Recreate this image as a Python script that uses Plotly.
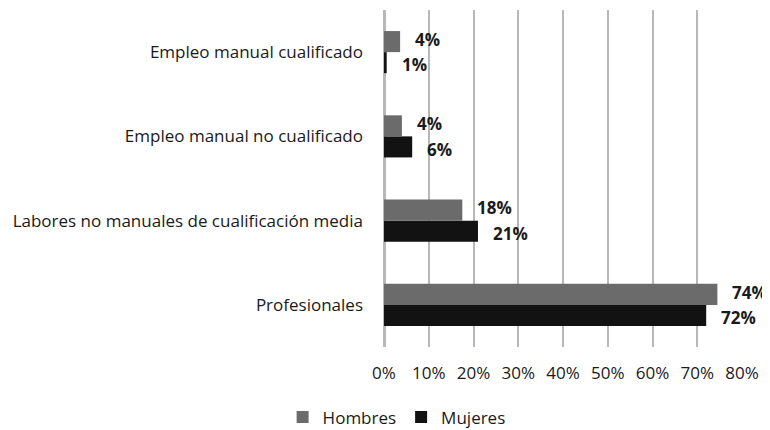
import plotly.graph_objects as go

categories = [
    "Profesionales",
    "Labores no manuales de cualificación media",
    "Empleo manual no cualificado",
    "Empleo manual cualificado",
]
hombres = [0.745, 0.175, 0.040, 0.036]
mujeres = [0.720, 0.210, 0.063, 0.006]

COLOR_H = "#6b6b6b"
COLOR_M = "#121212"
FONT = "'Open Sans', sans-serif"

fig = go.Figure()
# Mujeres first so that Hombres sits on top within each group
fig.add_trace(go.Bar(
    y=categories, x=mujeres, name="Mujeres", orientation="h",
    marker=dict(color=COLOR_M, line=dict(width=0)),
    legendrank=2, hoverinfo="x+name",
))
fig.add_trace(go.Bar(
    y=categories, x=hombres, name="Hombres", orientation="h",
    marker=dict(color=COLOR_H, line=dict(width=0)),
    legendrank=1, hoverinfo="x+name",
))

# data labels to the right of each bar
for vals, off in ((hombres, 0.15), (mujeres, -0.15)):
    for i, v in enumerate(vals):
        fig.add_annotation(
            x=v, y=i + off, xref="x", yref="y",
            text=f"{round(v * 100):.0f}%", showarrow=False,
            xanchor="left", xshift=13,
            font=dict(family=FONT, size=17, color="#1a1a1a", weight="bold"),
        )

# page body has an 8px margin, so the figure is 8px smaller than the window
fig.update_layout(
    width=762, height=422,
    margin=dict(l=376, r=28, t=2, b=83),
    paper_bgcolor="white", plot_bgcolor="white",
    barmode="group", bargap=0.5, bargroupgap=0,
    font=dict(family=FONT, size=17, color="#1a1a1a"),
    legend=dict(orientation="h", x=0.51, xref="container", xanchor="center",
                y=0.03, yref="container", yanchor="middle",
                font=dict(size=17), itemwidth=30, traceorder="normal"),
    showlegend=True,
)
fig.update_xaxes(
    range=[0, 0.8], dtick=0.1, tickformat=".0%",
    showgrid=True, gridcolor="#b8b8b8", gridwidth=2,
    zeroline=True, zerolinecolor="#b8b8b8", zerolinewidth=3,
    ticks="", tickfont=dict(size=17), ticklabelstandoff=14,
    automargin=False, fixedrange=True,
)
fig.update_yaxes(
    range=[-0.5, 3.5], showgrid=False, zeroline=False,
    ticks="", ticklabelstandoff=20, tickfont=dict(size=17),
    automargin=False,
)

fig.write_html("out.html")
